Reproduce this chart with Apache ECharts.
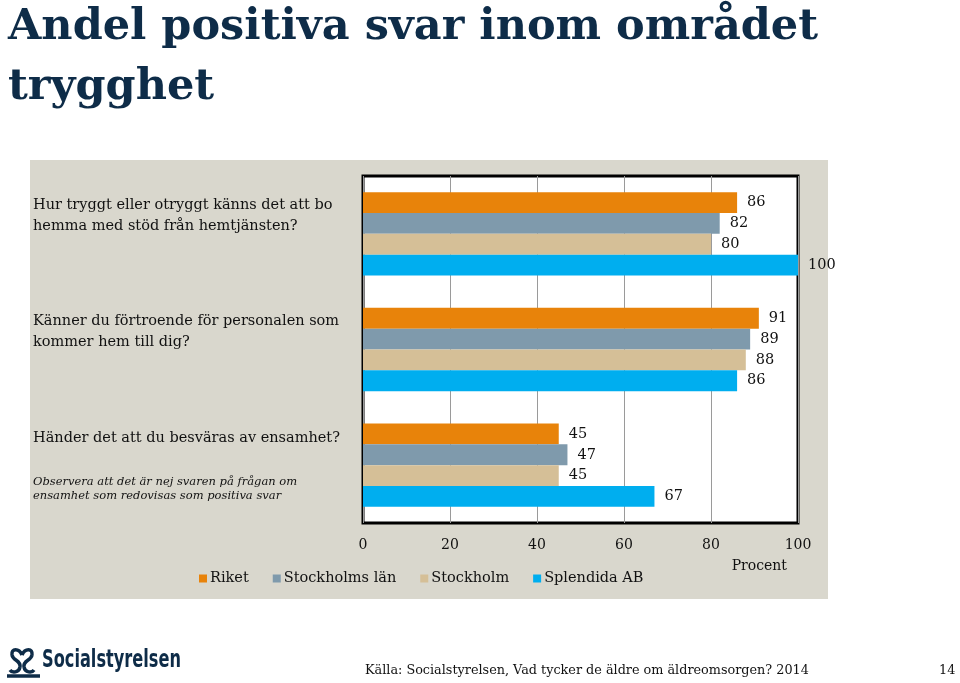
<!DOCTYPE html>
<html>
<head>
<meta charset="utf-8">
<script src="https://cdn.jsdelivr.net/npm/echarts@6/dist/echarts.min.js"></script>
<style>
html,body{margin:0;padding:0;background:#fff;}
#c{width:960px;height:683px;}
</style>
</head>
<body>
<div id="c"></div>
<script>
const titleText = 'Andel positiva svar inom området\ntrygghet';
const categories = [
  'Hur tryggt eller otryggt känns det att bo\nhemma med stöd från hemtjänsten?',
  'Känner du förtroende för personalen som\nkommer hem till dig?',
  'Händer det att du besväras av ensamhet?'
];
const noteLines = [
  'Observera att det är nej svaren på frågan om',
  'ensamhet som redovisas som positiva svar'
];
const seriesNames = ['Riket', 'Stockholms län', 'Stockholm', 'Splendida AB'];
const riket = [86, 91, 45];
const stockholmsLan = [82, 89, 47];
const stockholm = [80, 88, 45];
const splendida = [100, 86, 67];
const xTicks = [0, 20, 40, 60, 80, 100];
const axisName = 'Procent';
const sourceText = 'Källa: Socialstyrelsen, Vad tycker de äldre om äldreomsorgen? 2014';
const pageNo = '14';
const logoText = 'Socialstyrelsen';

const colors = ['#E8830A', '#7F9AAC', '#D5BF97', '#00AEEF'];
const serif = '"DejaVu Serif", "Liberation Serif", serif';
const values = [riket, stockholmsLan, stockholm, splendida];
const navy = '#0E2C48';

const chart = echarts.init(document.getElementById('c'), null, {renderer: 'canvas'});

function catLabel(v, i) {
  const lines = v.split('\n');
  if (i === 2) {
    return '{q|' + lines[0] + '}\n{gap| }\n{n|' + noteLines[0] + '}\n{n|' + noteLines[1] + '}';
  }
  return lines.map(l => '{q|' + l + '}').join('\n') + '\n{gap2| }';
}

const logoStroke = {stroke: navy, lineWidth: 3.5, fill: null};
function curve(x1, y1, c1x, c1y, c2x, c2y, x2, y2) {
  return {type: 'bezierCurve', shape: {x1: x1, y1: y1, cpx1: c1x, cpy1: c1y, cpx2: c2x, cpy2: c2y, x2: x2, y2: y2}, style: logoStroke};
}

chart.setOption({
  animation: false,
  backgroundColor: '#ffffff',
  title: {
    text: titleText,
    left: 3, top: -7,
    textStyle: {fontFamily: serif, fontWeight: 'bold', fontSize: 43, lineHeight: 60, color: navy}
  },
  graphic: [
    {type: 'rect', z: -10, shape: {x: 30, y: 160, width: 798, height: 439}, style: {fill: '#D9D7CD'}},
    {type: 'text', x: 365, y: 664, style: {text: sourceText, font: '12.8px ' + serif, fill: '#111'}},
    {type: 'text', x: 939, y: 664, style: {text: pageNo, font: '12.8px ' + serif, fill: '#111'}},
    {type: 'text', x: 42, y: 648, scaleX: 0.72, style: {text: logoText, font: 'bold 25px "DejaVu Sans Condensed", "DejaVu Sans", sans-serif', fill: navy}},
    {type: 'group', x: 5, y: 645, children: [
      curve(17, 10, 14, 3, 6, 3, 7, 10),
      curve(7, 10, 8, 16, 16, 15, 15, 22),
      curve(15, 22, 14, 28, 7, 28, 5, 25),
      curve(17, 10, 20, 3, 28, 3, 27, 10),
      curve(27, 10, 26, 16, 18, 15, 19, 22),
      curve(19, 22, 20, 28, 27, 28, 29, 25),
      {type: 'line', shape: {x1: 2, y1: 31, x2: 35, y2: 31}, style: logoStroke}
    ]}
  ],
  legend: {
    data: seriesNames,
    left: 194, top: 566,
    icon: 'rect', itemWidth: 8, itemHeight: 8, itemGap: 24,
    textStyle: {fontFamily: serif, fontSize: 14.5, color: '#111', padding: [0, 0, 0, -2]}
  },
  grid: {
    left: 363, top: 176, width: 435, height: 347,
    show: true, backgroundColor: '#ffffff', borderColor: '#000', borderWidth: 3
  },
  xAxis: {
    type: 'value', min: 0, max: 100, interval: 20,
    axisLine: {show: false}, axisTick: {show: false},
    splitLine: {show: true, lineStyle: {color: '#9a9a9a', width: 1}},
    axisLabel: {fontFamily: serif, fontSize: 14, color: '#111', margin: 15,
      formatter: v => xTicks.includes(v) ? String(v) : ''},
    name: axisName, nameLocation: 'end', nameGap: -11,
    nameTextStyle: {fontFamily: serif, fontSize: 14, color: '#111', align: 'right', verticalAlign: 'top', padding: [36, 0, 0, 0]}
  },
  yAxis: {
    type: 'category', data: categories, inverse: true,
    axisLine: {show: false}, axisTick: {show: false},
    axisLabel: {
      align: 'left', margin: 330, formatter: catLabel,
      rich: {
        q: {fontFamily: serif, fontSize: 14.5, lineHeight: 21, color: '#111'},
        gap: {fontSize: 10, lineHeight: 26},
        gap2: {fontSize: 10, lineHeight: 36},
        n: {fontFamily: serif, fontSize: 11.5, fontStyle: 'italic', lineHeight: 14, color: '#111'}
      }
    }
  },
  series: seriesNames.map((name, i) => ({
    name: name, type: 'bar', data: values[i],
    barGap: '0%', barCategoryGap: '28%',
    itemStyle: {color: colors[i]},
    label: {show: true, position: 'right', distance: 10, fontFamily: serif, fontSize: 14.5, color: '#111'}
  }))
});
</script>
</body>
</html>
